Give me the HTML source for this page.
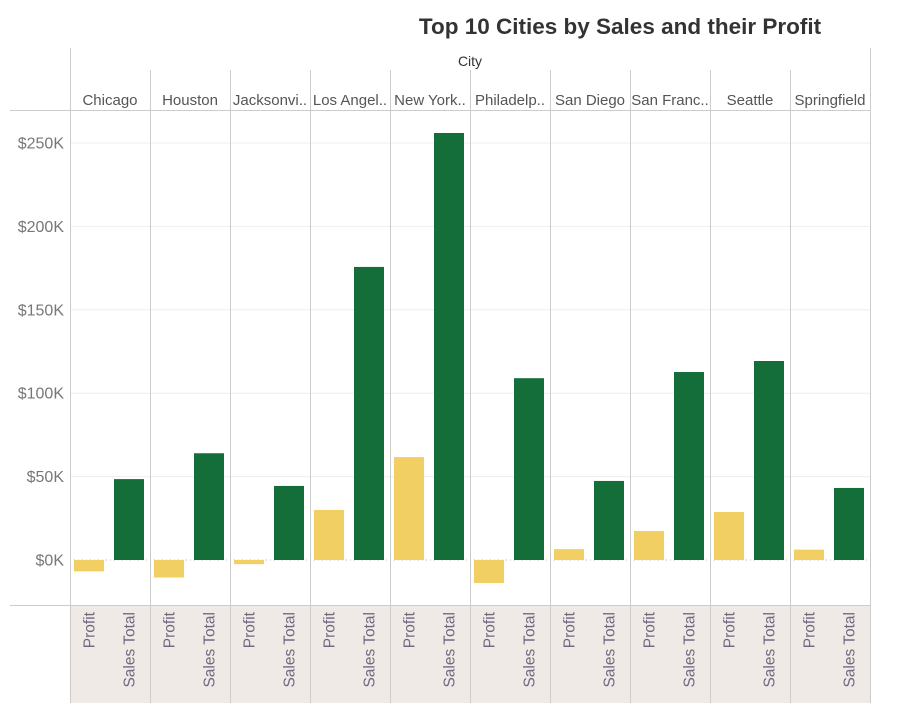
<!DOCTYPE html>
<html><head><meta charset="utf-8"><style>
body{margin:0;background:#fff;font-family:"Liberation Sans",sans-serif}
</style></head><body>
<svg width="923" height="703" xmlns="http://www.w3.org/2000/svg" font-family="Liberation Sans, DejaVu Sans, sans-serif">
<text x="620" y="34" text-anchor="middle" font-size="22.5" font-weight="bold" fill="#333">Top 10 Cities by Sales and their Profit</text>
<g id="g"></g>
</svg>
<script>
const cities=["Chicago","Houston","Jacksonvi..","Los Angel..","New York..","Philadelp..","San Diego","San Franc..","Seattle","Springfield"];
const profit=[-6.8,-10.5,-2.5,30,61.7,-13.8,6.5,17.4,28.8,6.2];
const sales=[48.5,64,44.4,175.7,256,109,47.4,112.7,119.3,43.2];
const ticks=[0,50,100,150,200,250];
const ns="http://www.w3.org/2000/svg";
const g=document.getElementById('g');
function el(t,a,txt){const e=document.createElementNS(ns,t);for(const k in a)e.setAttribute(k,a[k]);if(txt!=null)e.textContent=txt;g.appendChild(e);return e;}
const y=v=>560-v*1.668;
const colX=i=>70+i*80;
let r=el('rect',{x:70,y:606,width:800,height:97,fill:'#efeae6'});

ticks.forEach(t=>{
 if(t>0){let l=el('line',{x1:70,x2:870,y1:y(t),y2:y(t),stroke:'#eee'});
 }
 let tx=el('text',{x:64,y:y(t)+5.5,'text-anchor':'end','font-size':16,fill:'#777'},'$'+t+'K');
 
});
let zl=el('line',{x1:70,x2:870,y1:560,y2:560,stroke:'#bbb','stroke-dasharray':'1,3'});

let h1=el('line',{x1:10,x2:870,y1:110.5,y2:110.5,stroke:'#ccc'});

let h2=el('line',{x1:10,x2:870,y1:605.5,y2:605.5,stroke:'#ccc'});

let ct=el('text',{x:470,y:66,'text-anchor':'middle','font-size':14,fill:'#333'},'City');

for(let i=0;i<=10;i++){
 let l=el('line',{x1:colX(i)+.5,x2:colX(i)+.5,y1:(i==0||i==10)?48:70,y2:703,stroke:'#ccc'});
 
}
cities.forEach((c,i)=>{
 const x0=colX(i);
 let t=el('text',{x:x0+40,y:105,'text-anchor':'middle','font-size':15,fill:'#555'},c);
 
 const p=profit[i],s=sales[i];
 let b1=el('rect',{x:x0+4,y:Math.min(y(p),y(0)),width:30,height:Math.abs(y(p)-y(0)),fill:'#f2cf63'});
 
 let b2=el('rect',{x:x0+44,y:Math.min(y(s),y(0)),width:30,height:Math.abs(y(s)-y(0)),fill:'#146e3a'});
 
 [['Profit',x0+19],['Sales Total',x0+59]].forEach(([lab,cx])=>{
  let tt=el('text',{x:0,y:0,'text-anchor':'end','font-size':15.5,fill:'#6f6a80',transform:`translate(${cx+5.5},612) rotate(-90)`},lab);
  
 });
});
</script>
</body></html>
